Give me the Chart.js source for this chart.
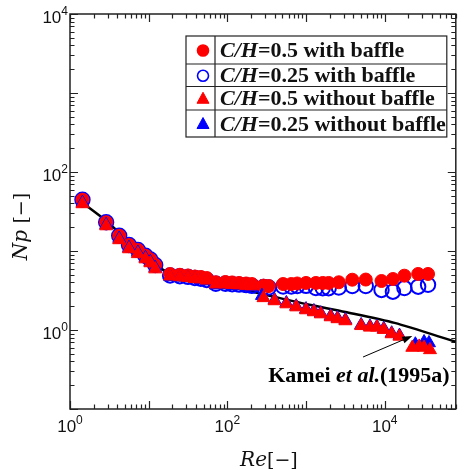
<!DOCTYPE html>
<html lang="en">
<head>
<meta charset="UTF-8">
<title>Np - Re</title>
<script src="https://cdn.jsdelivr.net/npm/chart.js"></script>
<style>
  html, body { margin: 0; padding: 0; background: #fff; }
  .wrap { position: relative; width: 465px; height: 470px; }
</style>
</head>
<body>
<div class="wrap"><canvas id="np-chart"></canvas></div>
<script>
// C/H=0.5 with baffle (filled red circles)
const reRedCircle = [1.44, 2.88, 4.22, 5.62, 7.29, 9.1, 10.5, 12.1, 18.7, 24.9, 31.6, 38.7, 46, 54.7, 71.4, 94.4, 115, 141, 173, 205,
  288, 335, 511, 649, 772, 1000, 1334, 1631, 1939, 2608, 3870, 5740, 9100, 12700, 17780, 26600, 35500];
const npRedCircle = [44.6, 23.1, 15.6, 11.9, 10.3, 8.7, 7.8, 6.65, 5.1, 5.0, 4.9, 4.75, 4.69, 4.55, 4.02, 4.05, 4.0, 3.94, 3.88, 3.82,
  3.64, 3.6, 3.82, 3.82, 3.88, 3.94, 3.94, 3.94, 3.94, 4.02, 4.33, 4.35, 4.17, 4.42, 4.87, 5.12, 5.12];

// C/H=0.25 with baffle (open blue circles)
const reBlueCircle = [1.44, 2.88, 4.22, 5.62, 7.29, 9.1, 10.5, 12.1, 18.7, 24.9, 31.6, 38.7, 46, 54.7, 71.4, 94.4, 115, 141, 173, 205,
  288, 335, 511, 649, 772, 1000, 1334, 1631, 1939, 2608, 3870, 5740, 9100, 12700, 17780, 26600, 35500];
const npBlueCircle = [44.6, 23.1, 15.6, 11.9, 10.3, 8.7, 7.8, 6.65, 4.9, 4.8, 4.7, 4.55, 4.45, 4.3, 3.85, 3.85, 3.8, 3.75, 3.7, 3.62,
  3.5, 3.45, 3.55, 3.55, 3.6, 3.62, 3.4, 3.38, 3.38, 3.45, 3.6, 3.6, 3.21, 3.05, 3.4, 3.53, 3.74];

// C/H=0.5 without baffle (red triangles)
const reRedTri = [1.44, 2.88, 4.22, 5.62, 7.29, 9.1, 10.5, 12.1, 18.7, 24.9, 31.6, 38.7, 46, 54.7, 71.4, 94.4, 115, 141, 173, 205,
  288, 398, 562, 750, 1000, 1259, 1540, 2054, 2512, 3162, 5012, 6494, 7943, 9716, 12235, 15400, 22400, 27400, 31600, 37600];
const npRedTri = [39.4, 20.7, 13.8, 10.6, 9.2, 7.9, 7.05, 5.9, 4.8, 4.7, 4.6, 4.45, 4.4, 4.25, 3.8, 3.8, 3.75, 3.7, 3.65, 3.6,
  2.55, 2.33, 2.13, 1.95, 1.79, 1.69, 1.59, 1.46, 1.38, 1.3, 1.13, 1.08, 1.08, 1.01, 0.89, 0.83, 0.60, 0.62, 0.60, 0.56];

// C/H=0.25 without baffle (blue triangles)
const reBlueTri = [1.44, 2.88, 4.22, 5.62, 7.29, 9.1, 10.5, 12.1, 18.7, 24.9, 31.6, 38.7, 46, 54.7, 71.4, 94.4, 115, 141, 173, 205,
  275, 398, 562, 750, 1000, 1259, 1540, 2054, 2512, 3162, 5012, 6494, 7943, 9716, 12235, 15400, 24500, 31600, 36500];
const npBlueTri = [41, 21.5, 14.4, 11.0, 9.6, 8.2, 7.3, 6.15, 4.75, 4.65, 4.55, 4.4, 4.3, 4.15, 3.7, 3.7, 3.65, 3.6, 3.55, 3.5,
  2.72, 2.4, 2.2, 2.0, 1.84, 1.74, 1.63, 1.5, 1.42, 1.34, 1.16, 1.11, 1.1, 1.04, 0.91, 0.85, 0.66, 0.705, 0.685];

// Kamei et al. (1995a) correlation
const reKamei = [1.3, 2.9, 5.6, 13.3, 23.7, 100, 316, 1000, 3162, 13335, 79400];
const npKamei = [44, 24, 13, 6.3, 4.8, 3.6, 2.77, 2.13, 1.69, 1.23, 0.71];

// axes
const reMin = 1, reMax = 8e4;
const npMin = 0.1, npMax = 1e4;
const reLabels = [1, 100, 10000];
const npLabels = [1, 100, 10000];

// annotation (in data units)
const arrowFrom = { re: 5300, np: 0.455 };
const arrowTo = { re: 22400, np: 0.84 };
const noteAt = { re: 4700, np: 0.262 };

const pts = (xs, ys) => xs.map((x, i) => ({ x, y: ys[i] }));

function logTicks(min, max) {
  const out = [];
  for (let e = Math.floor(Math.log10(min)); e <= Math.ceil(Math.log10(max)); e++) {
    for (let m = 1; m <= 9; m++) {
      const v = m * Math.pow(10, e);
      if (v >= min * 0.999 && v <= max * 1.001) out.push(v);
    }
  }
  return out;
}
const isDecade = v => Math.abs(Math.log10(v) - Math.round(Math.log10(v))) < 1e-9;

const SERIF = "'Liberation Serif', 'Times New Roman', serif";
const SANS = "'Liberation Sans', Arial, sans-serif";

function drawPow(ctx, v, x, y, align) {
  const exp = String(Math.round(Math.log10(v)));
  ctx.font = '17px ' + SANS;
  const w1 = ctx.measureText('10').width;
  ctx.font = '12px ' + SANS;
  const w2 = ctx.measureText(exp).width;
  const left = align === 'right' ? x - w1 - w2 : x - (w1 + w2) / 2;
  ctx.textAlign = 'left';
  ctx.textBaseline = 'middle';
  ctx.font = '17px ' + SANS;
  ctx.fillText('10', left, y + 4);
  ctx.font = '12px ' + SANS;
  ctx.fillText(exp, left + w1, y - 2.5);
}

function drawRuns(ctx, runs, x, y, align) {
  let total = 0;
  runs.forEach(r => { ctx.font = r.font; r.w = ctx.measureText(r.t).width; total += r.w; });
  let cx = align === 'center' ? x - total / 2 : x;
  ctx.textAlign = 'left';
  runs.forEach(r => { ctx.font = r.font; ctx.fillText(r.t, cx, y); cx += r.w; });
}

const axesPlugin = {
  id: 'axesPlugin',
  beforeDatasetsDraw(chart) {
    const { ctx, chartArea: a, scales: { x, y } } = chart;
    ctx.save();
    ctx.strokeStyle = '#222';
    ctx.lineWidth = 1.2;
    ctx.beginPath();
    logTicks(reMin, reMax).forEach(v => {
      const px = Math.round(x.getPixelForValue(v)) + 0.5;
      const len = isDecade(v) ? 8 : 4.5;
      ctx.moveTo(px, a.bottom); ctx.lineTo(px, a.bottom - len);
      ctx.moveTo(px, a.top); ctx.lineTo(px, a.top + len);
    });
    logTicks(npMin, npMax).forEach(v => {
      const py = Math.round(y.getPixelForValue(v)) + 0.5;
      const len = isDecade(v) ? 8 : 4.5;
      ctx.moveTo(a.left, py); ctx.lineTo(a.left + len, py);
      ctx.moveTo(a.right, py); ctx.lineTo(a.right - len, py);
    });
    ctx.stroke();
    ctx.lineWidth = 1.5;
    ctx.strokeRect(a.left, a.top, a.right - a.left, a.bottom - a.top);

    ctx.fillStyle = '#111';
    reLabels.forEach(v => drawPow(ctx, v, x.getPixelForValue(v), a.bottom + 14.5, 'center'));
    npLabels.forEach(v => drawPow(ctx, v, a.left - 2, y.getPixelForValue(v), 'right'));

    // axis titles
    ctx.textBaseline = 'middle';
    drawRuns(ctx, [
      { t: 'Re', font: 'italic 20px ' + "'DejaVu Serif', serif" },
      { t: '[\u2212]', font: '19px ' + "'DejaVu Serif', serif" }
    ], (a.left + a.right) / 2 + 6, 461, 'center');
    ctx.save();
    ctx.translate(22, (a.top + a.bottom) / 2 + 15);
    ctx.rotate(-Math.PI / 2);
    drawRuns(ctx, [
      { t: 'Np ', font: 'italic 20px ' + "'DejaVu Serif', serif" },
      { t: '[\u2212]', font: '19px ' + "'DejaVu Serif', serif" }
    ], 0, 0, 'center');
    ctx.restore();
    ctx.restore();
  },
  afterDraw(chart) {
    const { ctx, chartArea: a, scales: { x, y } } = chart;
    ctx.save();
    // legend table
    const L = a.left + 116, R = a.right - 9, T = a.top + 22;
    const rows = [T, T + 28, T + 50.5, T + 74, T + 101];
    const divX = L + 29;
    ctx.strokeStyle = '#222';
    ctx.lineWidth = 1.2;
    ctx.strokeRect(L, T, R - L, rows[4] - T);
    ctx.beginPath();
    rows.slice(1, 4).forEach(r => { ctx.moveTo(L, r); ctx.lineTo(R, r); });
    ctx.moveTo(divX, T); ctx.lineTo(divX, rows[4]);
    ctx.stroke();
    const sets = chart.data.datasets.filter(d => d.inLegend);
    sets.forEach((d, i) => {
      const cy = (rows[i] + rows[i + 1]) / 2 + 0.5;
      const mx = L + 17;
      ctx.fillStyle = d.backgroundColor;
      ctx.strokeStyle = d.borderColor;
      ctx.lineWidth = d.pointStyle === 'circle' ? 1.6 : 1;
      ctx.beginPath();
      if (d.pointStyle === 'circle') {
        ctx.arc(mx, cy, 5.5, 0, Math.PI * 2);
      } else {
        ctx.moveTo(mx, cy - 6.5); ctx.lineTo(mx + 6, cy + 4.5); ctx.lineTo(mx - 6, cy + 4.5); ctx.closePath();
      }
      ctx.fill();
      ctx.stroke();
      const k = d.label.indexOf('=');
      ctx.fillStyle = '#111';
      ctx.textBaseline = 'middle';
      drawRuns(ctx, [
        { t: d.label.slice(0, k), font: 'italic bold 22px ' + SERIF },
        { t: d.label.slice(k), font: 'bold 22px ' + SERIF }
      ], divX + 5, cy + 1, 'left');
    });

    // Kamei annotation
    const x0 = x.getPixelForValue(arrowFrom.re), y0 = y.getPixelForValue(arrowFrom.np);
    const x1 = x.getPixelForValue(arrowTo.re), y1 = y.getPixelForValue(arrowTo.np);
    const ang = Math.atan2(y1 - y0, x1 - x0);
    ctx.strokeStyle = '#000';
    ctx.fillStyle = '#000';
    ctx.lineWidth = 1;
    ctx.beginPath();
    ctx.moveTo(x0, y0);
    ctx.lineTo(x1 - 8 * Math.cos(ang), y1 - 8 * Math.sin(ang));
    ctx.stroke();
    ctx.beginPath();
    ctx.moveTo(x1, y1);
    ctx.lineTo(x1 - 10 * Math.cos(ang) + 3.5 * Math.sin(ang), y1 - 10 * Math.sin(ang) - 3.5 * Math.cos(ang));
    ctx.lineTo(x1 - 10 * Math.cos(ang) - 3.5 * Math.sin(ang), y1 - 10 * Math.sin(ang) + 3.5 * Math.cos(ang));
    ctx.closePath();
    ctx.fill();
    ctx.textBaseline = 'middle';
    drawRuns(ctx, [
      { t: 'Kamei ', font: 'bold 22px ' + SERIF },
      { t: 'et al.', font: 'italic bold 22px ' + SERIF },
      { t: '(1995a)', font: 'bold 22px ' + SERIF }
    ], x.getPixelForValue(noteAt.re), y.getPixelForValue(noteAt.np), 'center');
    ctx.restore();
  }
};

new Chart(document.getElementById('np-chart').getContext('2d'), {
  type: 'scatter',
  data: {
    datasets: [
      { label: 'C/H=0.5 with baffle', inLegend: true, data: pts(reRedCircle, npRedCircle), pointStyle: 'circle',
        pointRadius: 6.5, backgroundColor: '#ff0000', borderColor: '#ff0000', borderWidth: 1, order: 3 },
      { label: 'C/H=0.25 with baffle', inLegend: true, data: pts(reBlueCircle, npBlueCircle), pointStyle: 'circle',
        pointRadius: 7.2, backgroundColor: 'rgba(0,0,0,0)', borderColor: '#0000ff', borderWidth: 2, order: 4 },
      { label: 'C/H=0.5 without baffle', inLegend: true, data: pts(reRedTri, npRedTri), pointStyle: 'triangle',
        pointRadius: 7.5, backgroundColor: '#ff0000', borderColor: '#ff0000', borderWidth: 1, order: 1 },
      { label: 'C/H=0.25 without baffle', inLegend: true, data: pts(reBlueTri, npBlueTri), pointStyle: 'triangle',
        pointRadius: 7.5, backgroundColor: '#0000ff', borderColor: '#0000ff', borderWidth: 1, order: 2 },
      { label: 'Kamei et al. (1995a)', data: pts(reKamei, npKamei), showLine: true, pointRadius: 0,
        borderColor: '#000', borderWidth: 2.5, tension: 0.25, order: 6 }
    ]
  },
  options: {
    responsive: true,
    maintainAspectRatio: false,
    animation: false,
    devicePixelRatio: 1,
    layout: { padding: { top: 14, right: 3, left: 0, bottom: 0 } },
    plugins: { legend: { display: false }, tooltip: { enabled: false } },
    scales: {
      x: {
        type: 'logarithmic', min: reMin, max: reMax,
        grid: { display: false }, border: { display: false }, ticks: { display: false },
        afterFit: s => { s.height = 61; }
      },
      y: {
        type: 'logarithmic', min: npMin, max: npMax,
        grid: { display: false }, border: { display: false }, ticks: { display: false },
        afterFit: s => { s.width = 70; }
      }
    }
  },
  plugins: [axesPlugin]
});
</script>
</body>
</html>
